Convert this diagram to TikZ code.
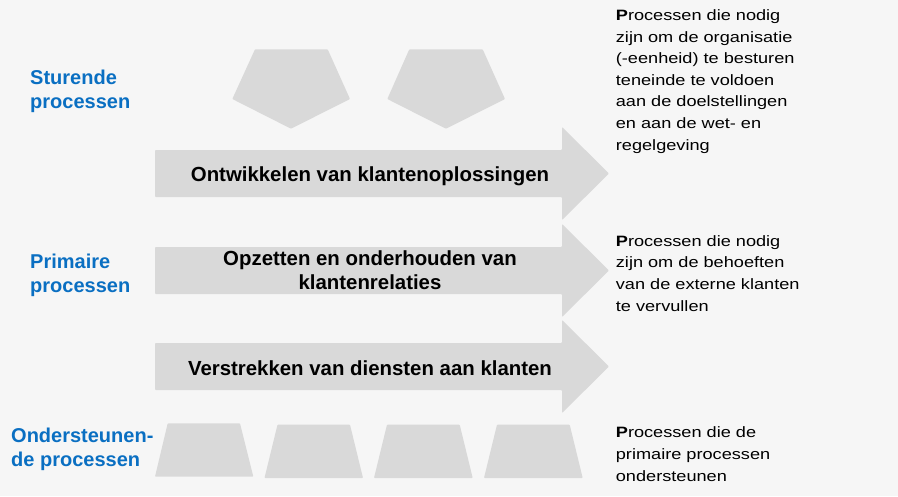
\documentclass[tikz,border=0pt]{standalone}
\usepackage{fontspec}
\setmainfont{Liberation Sans}
\newfontfamily\notefont[FakeStretch=1.21]{Liberation Sans}
\usetikzlibrary{positioning}

\definecolor{bggray}{HTML}{F6F6F6}
\definecolor{shapegray}{HTML}{D9D9D9}
\definecolor{labelblue}{HTML}{0A6FC2}

\begin{document}
\begin{tikzpicture}[
  x=1pt, y=-1pt,
  shape fill/.style={
    fill=shapegray,
    rounded corners=0.8pt,
  },
  group label/.style={
    anchor=base west,
    inner sep=0pt,
    align=left,
    text=labelblue,
    font=\bfseries\fontsize{20}{24}\selectfont,
  },
  note text/.style={
    anchor=base west,
    inner sep=0pt,
    align=left,
    font=\notefont\fontsize{15}{21.6}\selectfont,
  },
  flow text/.style={
    anchor=base,
    inner sep=0pt,
    align=center,
    font=\bfseries\fontsize{20.4}{23.6}\selectfont,
  },
  ]
  \fill[bggray] (0,0) rectangle (898,496);
  \useasboundingbox (0,0) rectangle (898,496);

  % sturende processen
  \fill[shape fill] (255,49.3) -- (327.7,49.3) -- (350,99) -- (291,128.7) -- (232.3,99) -- cycle;
  \fill[shape fill] (409.3,49.3) -- (482.7,49.3) -- (505,99) -- (446,128.7) -- (387.3,99) -- cycle;

  % primaire processen
  \foreach \c in {173.5,270.5,366.5}
    \fill[shape fill] (155,\c-23.5) -- (562,\c-23.5) -- (562,\c-46.5)
      -- (609,\c) -- (562,\c+46.5) -- (562,\c+23.5) -- (155,\c+23.5) -- cycle;

  % ondersteunende processen
  \fill[shape fill] (155,476.7) -- (167.7,423.3) -- (240,423.3) -- (253.3,476.7) -- cycle;
  \foreach \l/\r in {264.5/363,374/472.7,484/582.7}
    \fill[shape fill] (\l,478) -- (\l+13,424.7) -- (\r-13,424.7) -- (\r,478) -- cycle;

  % base anchor = baseline of the last line
  \node[flow text] (flow-dev) at (370,181) {Ontwikkelen van klantenoplossingen};
  \node[flow text] (flow-rel) at (370,289.3) {Opzetten en onderhouden van\\klantenrelaties};
  \node[flow text] (flow-srv) at (370,375) {Verstrekken van diensten aan klanten};

  \node[group label] (lbl-steer) at (30,108.3) {Sturende\\processen};
  \node[group label] (lbl-prim) at (30,292.7) {Primaire\\processen};
  \node[group label] (lbl-supp) at (11,466) {Ondersteunen-\\de processen};

  \node[note text] (note-steer) at (615.7,150) {\textbf{P}rocessen die nodig\\
    zijn om de organisatie\\(-eenheid) te besturen\\teneinde te voldoen\\
    aan de doelstellingen\\en aan de wet- en\\regelgeving};
  \node[note text] (note-prim) at (615.7,311) {\textbf{P}rocessen die nodig\\
    zijn om de behoeften\\van de externe klanten\\te vervullen};
  \node[note text] (note-supp) at (615.7,481) {\textbf{P}rocessen die de\\
    primaire processen\\ondersteunen};
\end{tikzpicture}
\end{document}
